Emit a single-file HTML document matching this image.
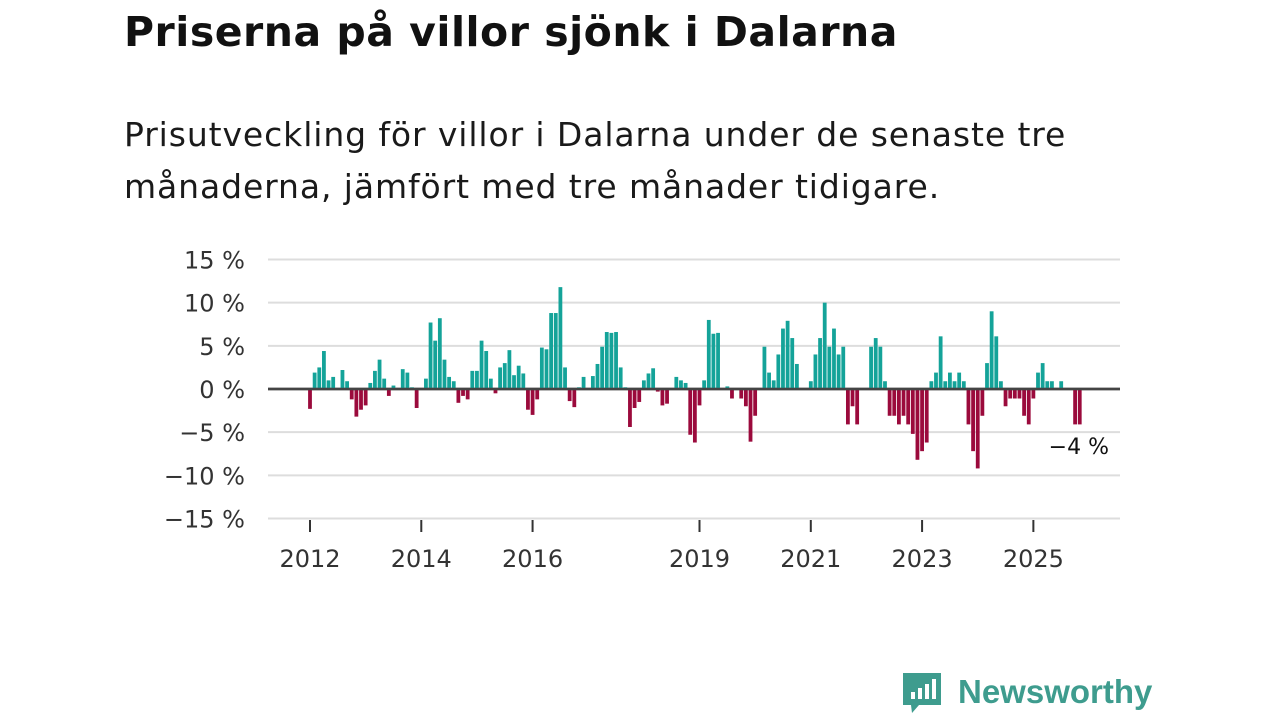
<!DOCTYPE html>
<html><head><meta charset="utf-8"><style>
body{margin:0;background:#fff;width:1280px;height:720px;overflow:hidden;font-family:"DejaVu Sans",sans-serif;color:#111}
h1{position:absolute;left:124px;top:8px;margin:0;font-size:41px;font-weight:bold;letter-spacing:0.5px;white-space:nowrap}
p.sub{position:absolute;left:124px;top:109px;margin:0;font-size:33px;line-height:52px;letter-spacing:0.9px;color:#1a1a1a;white-space:nowrap}
svg{position:absolute;left:0;top:0}
</style></head><body>
<h1>Priserna på villor sjönk i Dalarna</h1>
<p class="sub">Prisutveckling för villor i Dalarna under de senaste tre<br>månaderna, jämfört med tre månader tidigare.</p>
<svg id="chart" width="1280" height="720"></svg>
<script>
const yTicks=[15,10,5,0,-5,-10,-15];
const yTickLabels=["15 %","10 %","5 %","0 %","−5 %","−10 %","−15 %"];
const xTickYears=[2012,2014,2016,2019,2021,2023,2025];
const startYear=2012;
const values=[-2.3,1.9,2.5,4.4,1.0,1.4,0,2.2,0.9,-1.2,-3.2,-2.4,
-1.9,0.7,2.1,3.4,1.2,-0.8,0.4,0,2.3,1.9,0.2,-2.2,
0,1.2,7.7,5.6,8.2,3.4,1.4,0.9,-1.6,-0.8,-1.2,2.1,
2.1,5.6,4.4,1.2,-0.5,2.5,3.0,4.5,1.6,2.7,1.8,-2.4,
-3.0,-1.2,4.8,4.6,8.8,8.8,11.8,2.5,-1.4,-2.1,0.2,1.4,
0,1.5,2.9,4.9,6.6,6.5,6.6,2.5,0.2,-4.4,-2.2,-1.5,
1.0,1.8,2.4,-0.3,-1.9,-1.7,0,1.4,1.0,0.7,-5.3,-6.2,
-1.9,1.0,8.0,6.4,6.5,0,0.3,-1.1,0,-1.1,-2.0,-6.1,
-3.1,0,4.9,1.9,1.0,4.0,7.0,7.9,5.9,2.9,0,0,
0.9,4.0,5.9,10.0,4.9,7.0,4.0,4.9,-4.1,-2.0,-4.1,0,
0,4.9,5.9,4.9,0.9,-3.1,-3.1,-4.1,-3.1,-4.1,-5.2,-8.2,
-7.2,-6.2,0.9,1.9,6.1,0.9,1.9,0.9,1.9,0.9,-4.1,-7.2,
-9.2,-3.1,3.0,9.0,6.1,0.9,-2.0,-1.1,-1.1,-1.1,-3.1,-4.1,
-1.1,1.9,3.0,0.9,0.9,0,0.9,0,0,-4.1,-4.1];
const lastLabel="−4 %";
const svg=document.getElementById('chart');const NS='http://www.w3.org/2000/svg';
function yS(v){return 389-v*8.633;}
function xS(k){return 310+k*4.637;}
function mk(t,a,p){const e=document.createElementNS(NS,t);for(const k in a)e.setAttribute(k,a[k]);(p||svg).appendChild(e);return e;}
yTicks.forEach((t,i)=>{
 const l=mk('line',{x1:268,x2:1120,y1:yS(t),y2:yS(t),stroke:t===0?'#444':'#ddd','stroke-width':t===0?2.5:2});
 
 
 const tx=mk('text',{x:245,y:yS(t)+9,'text-anchor':'end','font-size':24,fill:'#333','font-family':'DejaVu Sans, sans-serif'});
 tx.textContent=yTickLabels[i];
 
 
});
xTickYears.forEach(y=>{
 const x=xS((y-startYear)*12);
 const l=mk('line',{x1:x,x2:x,y1:520,y2:532,stroke:'#333','stroke-width':2});
 
 
 const tx=mk('text',{x:x,y:567,'text-anchor':'middle','font-size':24,fill:'#333','font-family':'DejaVu Sans, sans-serif'});
 tx.textContent=y;
 
 
});
const g=mk('g',{});
values.forEach((v,k)=>{
 if(v===0)return;
 const r=mk('rect',{x:xS(k)-1.9,width:3.8,y:v>0?yS(v):389,height:Math.abs(yS(v)-389),fill:v>0?'#14a399':'#9b0a3c'},g);
 
 
});
const z=mk('line',{x1:268,x2:1120,y1:389,y2:389,stroke:'#444','stroke-width':2.5});


const ll=mk('text',{x:1109,y:454,'text-anchor':'end','font-size':22,fill:'#111','font-family':'DejaVu Sans, sans-serif'});
ll.textContent=lastLabel;


</script>
<svg width="1280" height="720" style="pointer-events:none">
<path d="M903 673 h38 v32 h-22 l-7 8 l-1 -8 h-8 z" fill="#3e9c8e"/>
<rect x="911" y="692" width="4" height="7" fill="#fff"/><rect x="918" y="688" width="4" height="11" fill="#fff"/><rect x="925" y="684" width="4" height="15" fill="#fff"/><rect x="932" y="679" width="4" height="20" fill="#fff"/>
<text x="958" y="703" font-size="33" font-weight="bold" fill="#3e9c8e" font-family="Liberation Sans, sans-serif">Newsworthy</text>
</svg>
</body></html>
